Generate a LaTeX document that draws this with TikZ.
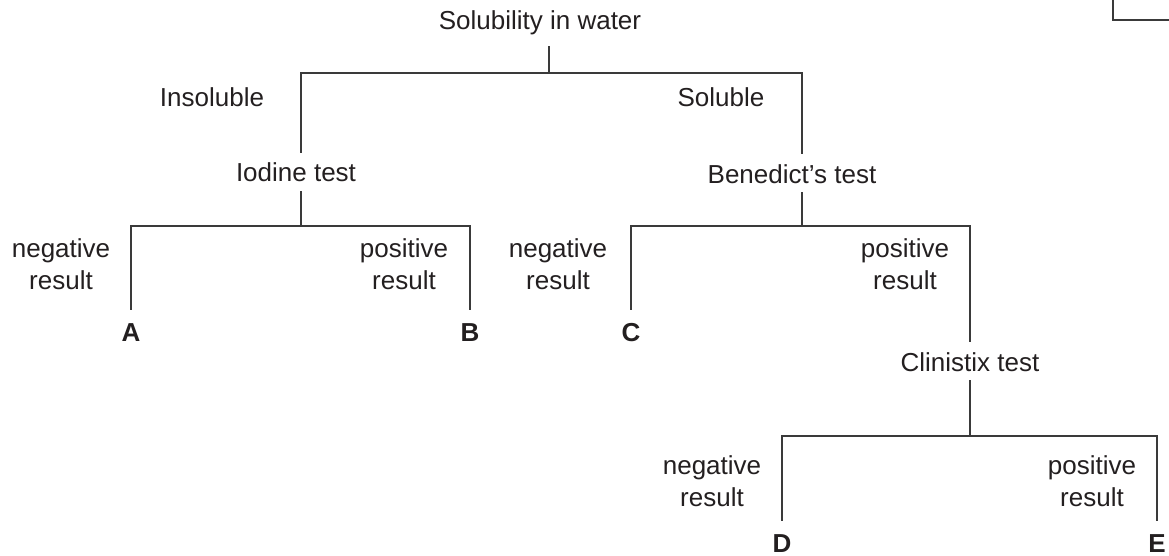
\documentclass[tikz,border=0pt]{standalone}
\usepackage{fontspec}
\setmainfont{Liberation Sans}
\definecolor{ink}{HTML}{231F20}
\definecolor{wire}{HTML}{3A3A3A}

\begin{document}
\begin{tikzpicture}[
                x=1pt, y=-1pt,
                every node/.style={inner sep=0pt, text=ink, font=\fontsize{26}{32}\selectfont},
                test/.style={anchor=base, text height=20pt, text depth=0pt, inner ysep=9pt},
                res/.style={align=center, anchor=center},
                outcome/.style={anchor=base, font=\fontsize{26}{32}\selectfont\bfseries, text height=19pt, text depth=0pt, inner ysep=12pt},
                branch/.style={draw=wire, line width=1.6pt}
            ]
                \useasboundingbox (0,0) rectangle (1169,556);
                \draw[branch] (1113,0) -- (1113,20) -- (1169,20);

                \node[test, text depth=7pt] (sol) at (540,30) {Solubility in water};
                \node[anchor=base] (insol) at (212,107) {Insoluble};
                \node[anchor=base] (solub) at (721,107) {Soluble};
                \node[test] (iod) at (296,182) {Iodine test};
                \node[test] (ben) at (792,183) {Benedict’s test};
                \node[test] (cli) at (970,371) {Clinistix test};

                \node[res] (iodneg) at (61,264.5) {negative\\result};
                \node[res] (iodpos) at (404,264.5) {positive\\result};
                \node[res] (benneg) at (558,264.5) {negative\\result};
                \node[res] (benpos) at (905,264.5) {positive\\result};
                \node[res] (clineg) at (712,481.5) {negative\\result};
                \node[res] (clipos) at (1092,481.5) {positive\\result};

                \node[outcome] (A) at (131,341) {A};
                \node[outcome] (B) at (470,341) {B};
                \node[outcome] (C) at (631,341) {C};
                \node[outcome] (D) at (782,552) {D};
                \node[outcome] (E) at (1157,552) {E};

                \coordinate (solJ) at (549,73);
                \coordinate (iodJ) at (301,226);
                \coordinate (benJ) at (802,226);
                \coordinate (cliJ) at (970,436);

                \draw[branch] (solJ |- sol.south) -- (solJ);
                \draw[branch] (iodJ |- iod.north) |- (solJ) -| (benJ |- ben.north);
                \draw[branch] (iodJ |- iod.south) -- (iodJ);
                \draw[branch] (A.north) |- (iodJ) -| (B.north);
                \draw[branch] (benJ |- ben.south) -- (benJ);
                \draw[branch] (C.north) |- (benJ) -| (cliJ |- cli.north);
                \draw[branch] (cli.south) -- (cliJ);
                \draw[branch] (D.north) |- (cliJ) -| (E.north);
            \end{tikzpicture}
\end{document}
